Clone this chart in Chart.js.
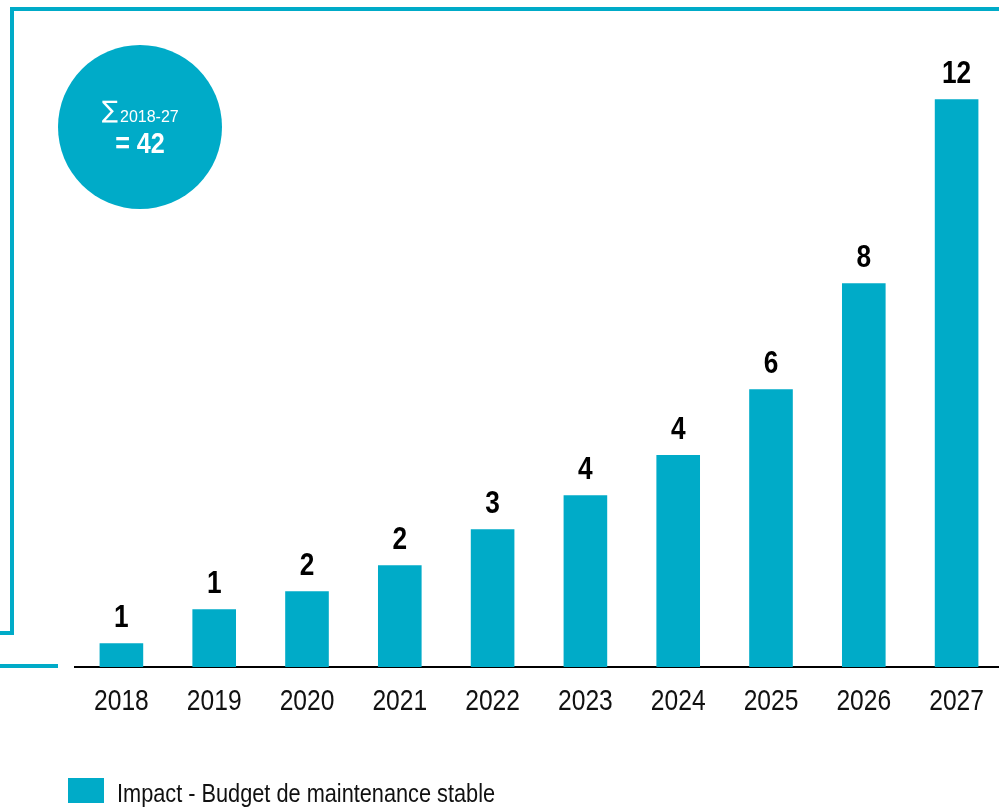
<!DOCTYPE html>
<html>
<head>
<meta charset="utf-8">
<script src="https://cdn.jsdelivr.net/npm/chart.js@4.4.1/dist/chart.umd.min.js"></script>
<style>
  html, body { margin: 0; padding: 0; background: #fff; overflow: hidden; width: 999px; height: 808px; }
  canvas { display: block; }
</style>
</head>
<body>
<canvas id="c" width="1005" height="808"></canvas>
<script>
// Yearly impact values
const years = ['2018', '2019', '2020', '2021', '2022', '2023', '2024', '2025', '2026', '2027'];
const impact = [0.5, 1.22, 1.6, 2.15, 2.91, 3.63, 4.48, 5.87, 8.11, 12.0];
const seriesLabel = 'Impact - Budget de maintenance stable';
const periodLabel = '2018-27';

const TEAL = '#00abc8';
const SANS = "'Liberation Sans', Arial, sans-serif";
const CONDENSE = 0.82;   // horizontal squeeze for the narrow lettering

// Draw text squeezed horizontally around its anchor point
function narrowText(ctx, text, x, y, font, align, squeeze) {
  ctx.save();
  ctx.font = font;
  ctx.textAlign = align || 'center';
  ctx.textBaseline = 'alphabetic';
  ctx.translate(x, y);
  ctx.scale(squeeze || CONDENSE, 1);
  ctx.fillText(text, 0, 0);
  ctx.restore();
}

// Cyan frame lines and the summary badge behind the chart
const framePlugin = {
  id: 'frame',
  beforeDraw(chart) {
    const ctx = chart.ctx;
    ctx.save();
    ctx.fillStyle = TEAL;
    ctx.fillRect(10, 7, 1000, 4);     // top rule
    ctx.fillRect(10, 7, 4, 628);      // left rule
    ctx.fillRect(0, 631, 14, 4);      // left rule foot
    ctx.fillRect(0, 664, 58, 4);      // short rule at axis level

    // summary badge
    const total = Math.round(impact.reduce((a, b) => a + b, 0));
    ctx.beginPath();
    ctx.arc(140, 127, 82, 0, Math.PI * 2);
    ctx.fill();
    ctx.fillStyle = '#fff';
    ctx.textBaseline = 'alphabetic';
    ctx.textAlign = 'left';
    ctx.font = "24px 'DejaVu Sans', sans-serif";
    ctx.fillText('\u2211', 102, 118);
    ctx.font = '16px ' + SANS;
    ctx.fillText(periodLabel, 120, 122);
    narrowText(ctx, '= ' + total, 140, 153, 'bold 30px ' + SANS, 'center', 0.84);
    ctx.restore();
  }
};

// Category labels under the axis, placed at the scale's tick positions
const yearLabels = {
  id: 'yearLabels',
  afterDraw(chart) {
    const ctx = chart.ctx;
    const xs = chart.scales.x;
    ctx.save();
    ctx.fillStyle = '#111';
    chart.data.labels.forEach((lab, i) => {
      narrowText(ctx, lab, xs.getPixelForTick(i), xs.top + 43, '30px ' + SANS, 'center');
    });
    ctx.restore();
  }
};

// Rounded value above each bar
const valueLabels = {
  id: 'valueLabels',
  afterDatasetsDraw(chart) {
    const ctx = chart.ctx;
    const meta = chart.getDatasetMeta(0);
    ctx.save();
    ctx.fillStyle = '#000';
    meta.data.forEach((bar, i) => {
      narrowText(ctx, String(Math.round(impact[i])), bar.x, bar.y - 16, 'bold 32px ' + SANS, 'center');
    });
    ctx.restore();
  }
};

// Single-entry legend below the axis
const legendBox = {
  id: 'legendBox',
  afterDraw(chart) {
    const ds = chart.data.datasets[0];
    const ctx = chart.ctx;
    ctx.save();
    ctx.fillStyle = ds.backgroundColor;
    ctx.fillRect(68, 778, 36, 25);
    ctx.fillStyle = '#111';
    narrowText(ctx, ds.label, 117, 802, '26.5px ' + SANS, 'left');
    ctx.restore();
  }
};

new Chart(document.getElementById('c'), {
  type: 'bar',
  data: {
    labels: years,
    datasets: [{
      label: seriesLabel,
      data: impact,
      backgroundColor: TEAL,
      borderWidth: 0,
      barPercentage: 0.47,
      categoryPercentage: 1.0
    }]
  },
  options: {
    responsive: false,
    animation: false,
    devicePixelRatio: 1,
    layout: { padding: { left: 75, right: 2, top: 52, bottom: 0 } },
    plugins: {
      legend: { display: false },
      tooltip: { enabled: false }
    },
    scales: {
      x: {
        grid: { display: false, drawTicks: false },
        border: { display: true, color: '#000', width: 2 },
        ticks: { display: false },
        afterFit(scale) { scale.height = 141; }
      },
      y: {
        display: false,
        min: 0,
        max: 13
      }
    }
  },
  plugins: [framePlugin, yearLabels, valueLabels, legendBox]
});
</script>
</body>
</html>
